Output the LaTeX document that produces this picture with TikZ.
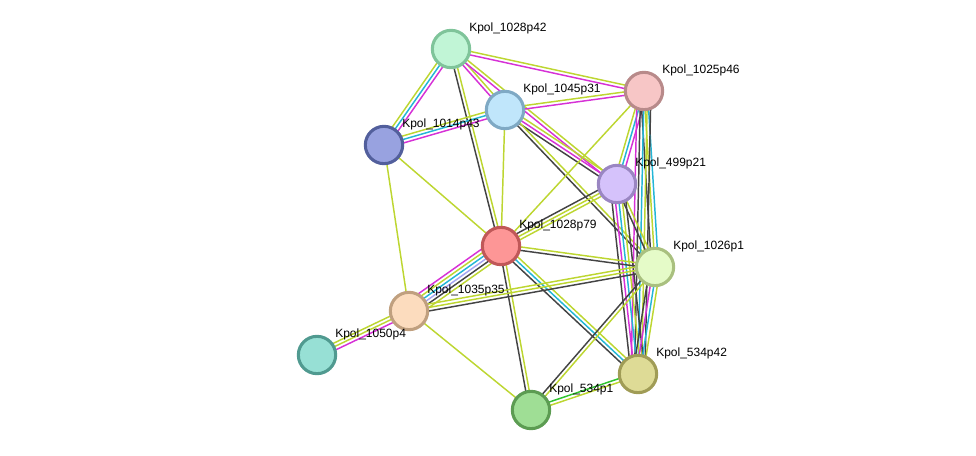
\documentclass[tikz,border=0pt]{standalone}
\usepackage{fontspec}
\setmainfont{Liberation Sans}
\usetikzlibrary{calc,backgrounds}

\definecolor{ltext}{HTML}{BDD631}
\definecolor{lexp}{HTML}{D631D6}
\definecolor{ldb}{HTML}{23B6D6}
\definecolor{lcoex}{HTML}{444444}
\definecolor{lnbh}{HTML}{2FC42F}
\definecolor{lhom}{HTML}{A6A6F2}

\tikzset{
  ev/.style={line width=1.1pt},
  yg/.style={ev,ltext},  mg/.style={ev,lexp}, cy/.style={ev,ldb},
  bk/.style={ev,lcoex},  gr/.style={ev,lnbh}, lv/.style={ev,lhom},
  prot/.style={circle,minimum size=28pt,inner sep=0,line width=2.3pt},
  lbl/.style={anchor=west,inner sep=0,font=\fontsize{9}{10}\selectfont}
}

% one thin line per evidence colour, side by side
\newcommand\lnk[3]{%
  \foreach \c [count=\n] in {#3} {\xdef\lnkn{\n}}%
  \foreach \c [count=\i] in {#3} {%
    \pgfmathsetmacro\off{(\i-(\lnkn+1)/2)*2.6}%
    \draw[\c] ($(#1)!\off pt!90:(#2)$) -- ($(#2)!\off pt!-90:(#1)$);
  }}

\begin{document}
\begin{tikzpicture}[x=0.75pt,y=-0.75pt]
\useasboundingbox (0,0) rectangle (976,456);

\node[prot,fill={rgb,255:red,193;green,245;blue,214},draw={rgb,255:red,127;green,196;blue,154}] (n1028p42) at (451,49) {};
\node[prot,fill={rgb,255:red,247;green,198;blue,198},draw={rgb,255:red,184;green,138;blue,138}] (n1025p46) at (644,91) {};
\node[prot,fill={rgb,255:red,192;green,230;blue,251},draw={rgb,255:red,127;green,169;blue,196}] (n1045p31) at (505,110) {};
\node[prot,fill={rgb,255:red,152;green,162;blue,224},draw={rgb,255:red,82;green,95;blue,156}] (n1014p43) at (384,145) {};
\node[prot,fill={rgb,255:red,213;green,194;blue,251},draw={rgb,255:red,154;green,134;blue,194}] (n499p21) at (617,184) {};
\node[prot,fill={rgb,255:red,253;green,150;blue,150},draw={rgb,255:red,192;green,88;blue,88}] (n1028p79) at (501,246) {};
\node[prot,fill={rgb,255:red,229;green,251;blue,200},draw={rgb,255:red,169;green,192;blue,127}] (n1026p1) at (655,267) {};
\node[prot,fill={rgb,255:red,252;green,220;blue,190},draw={rgb,255:red,192;green,160;blue,127}] (n1035p35) at (409,311) {};
\node[prot,fill={rgb,255:red,151;green,224;blue,213},draw={rgb,255:red,80;green,154;blue,144}] (n1050p4) at (317,355) {};
\node[prot,fill={rgb,255:red,222;green,219;blue,150},draw={rgb,255:red,160;green,156;blue,86}] (n534p42) at (638,374) {};
\node[prot,fill={rgb,255:red,159;green,222;blue,149},draw={rgb,255:red,92;green,156;blue,82}] (n534p1) at (531,410) {};

% labels
\foreach \p/\t in {n1028p42/Kpol\_1028p42, n1025p46/Kpol\_1025p46, n1045p31/Kpol\_1045p31,
  n1014p43/Kpol\_1014p43, n499p21/Kpol\_499p21, n1028p79/Kpol\_1028p79, n1026p1/Kpol\_1026p1,
  n1035p35/Kpol\_1035p35, n1050p4/Kpol\_1050p4, n534p42/Kpol\_534p42, n534p1/Kpol\_534p1}
  \node[lbl] (l\p) at ($(\p)+(18,-21)$) {\t};

\begin{pgfonlayer}{background}
\lnk{n1028p42}{n1014p43}{yg,cy,mg}
\lnk{n1028p42}{n1025p46}{mg,yg}
\lnk{n1028p42}{n1045p31}{mg,yg}
\lnk{n1028p42}{n499p21}{mg,yg}
\lnk{n1028p42}{n1028p79}{bk,yg}
\lnk{n1014p43}{n1045p31}{mg,cy,yg}
\lnk{n1014p43}{n1028p79}{yg}
\lnk{n1014p43}{n1035p35}{yg}
\lnk{n1045p31}{n1025p46}{mg,yg}
\lnk{n1045p31}{n499p21}{bk,mg,yg}
\lnk{n1045p31}{n1026p1}{bk,yg}
\lnk{n1045p31}{n1028p79}{yg}
\lnk{n1025p46}{n1028p79}{yg}
\lnk{n1025p46}{n499p21}{yg,cy,mg}
\lnk{n1025p46}{n1026p1}{bk,yg,cy}
\lnk{n1025p46}{n534p42}{mg,bk,cy,yg,bk}
\lnk{n499p21}{n1028p79}{bk,yg,yg}
\lnk{n499p21}{n1026p1}{bk,yg}
\lnk{n499p21}{n534p42}{bk,mg,cy,yg,bk}
\lnk{n1026p1}{n534p42}{bk,mg,cy,yg}
\lnk{n1028p79}{n1026p1}{bk,yg}
\lnk{n1028p79}{n534p42}{bk,cy,yg}
\lnk{n1028p79}{n534p1}{bk,yg}
\lnk{n1028p79}{n1035p35}{mg,yg,cy,lv,bk,yg}
\lnk{n1050p4}{n1035p35}{mg,yg,yg}
\lnk{n1035p35}{n1026p1}{bk,yg,yg}
\lnk{n1035p35}{n534p1}{yg}
\lnk{n1026p1}{n534p1}{bk,yg}
\lnk{n534p42}{n534p1}{gr,yg}
\end{pgfonlayer}
\end{tikzpicture}
\end{document}
